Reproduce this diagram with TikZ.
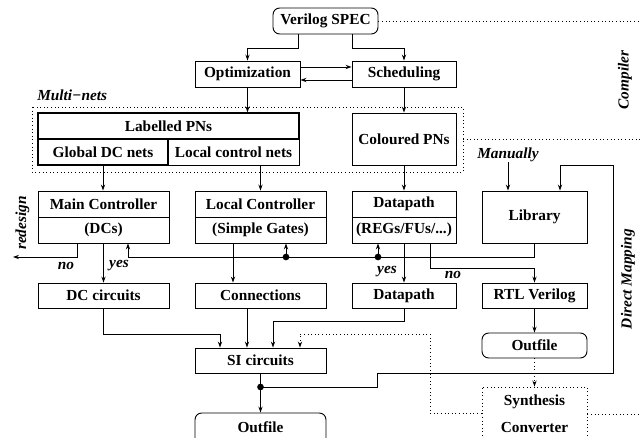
\documentclass[tikz,border=0pt]{standalone}
\usepackage{fontspec}
\setmainfont{Liberation Serif}
\usetikzlibrary{arrows.meta,calc}
\begin{document}
\begin{tikzpicture}[x=0.75pt,y=-0.75pt,
  every node/.style={font=\fontsize{11.5}{13}\selectfont\bfseries, inner sep=0pt},
  bx/.style n args={2}{draw, line width=0.7pt, minimum width=#1*0.75pt, minimum height=#2*0.75pt},
  rbx/.style n args={2}{bx={#1}{#2}, rounded corners=5pt},
  thickbx/.style n args={2}{bx={#1}{#2}, line width=1.1pt},
  dotbx/.style n args={2}{draw, dotted, line width=0.7pt, minimum width=#1*0.75pt, minimum height=#2*0.75pt},
  lbl/.style={font=\fontsize{11.5}{13}\selectfont\bfseries\itshape},
  arr/.style={-{Stealth[length=4.5pt,width=3.2pt]}, line width=0.65pt},
  ln/.style={line width=0.65pt},
  dline/.style={dotted, line width=0.7pt},
  dotarr/.style={dotted, line width=0.7pt, -{Stealth[length=4.5pt,width=3.2pt]}},
  jdot/.style={circle, fill, inner sep=0pt, minimum size=5pt}
]
\useasboundingbox (0,0) rectangle (640,438);
\clip (0,0) rectangle (640,438);

% boxes
\node[rbx={105}{26}] (spec) at (325.5,21) {Verilog SPEC};
\node[bx={105}{26}] (opt) at (247.5,74) {Optimization};
\node[bx={104}{26}] (sch) at (404,74) {Scheduling};

\node[thickbx={261}{26}] (lab) at (168.5,126) {Labelled PNs};
\node[thickbx={130}{26}] (gdc) at (103,152) {Global DC nets};
\node[bx={131}{26}] (lcn) at (233.5,152) {Local control nets};
\node[bx={104}{52}] (col) at (404,139) {Coloured PNs};

\node[bx={131}{26}] (mct) at (103.5,204) {Main Controller};
\node[bx={131}{26}] (mcb) at (103.5,230) {(DCs)};
\node[bx={131}{26}] (lct) at (260.5,204) {Local Controller};
\node[bx={131}{26}] (lcb) at (260.5,230) {(Simple Gates)};
\node[bx={104}{26}] (dpt) at (404,204) {Datapath};
\node[bx={104}{26}] (dpb) at (404,230) {(REGs/FUs/...)};
\node[bx={105}{52}] (lib) at (534.5,217) {Library};

\node[bx={131}{25}] (dcc) at (103.5,295.5) {DC circuits};
\node[bx={131}{25}] (conn) at (260.5,295.5) {Connections};
\node[bx={104}{25}] (dp2) at (404,295.5) {Datapath};
\node[bx={105}{25}] (rtl) at (534.5,295.5) {RTL Verilog};

\node[bx={131}{25}] (si) at (260.5,360.5) {SI circuits};
\node[rbx={105}{25}] (out2) at (534.5,345.5) {Outfile};
\node[rbx={131}{32}] (out1) at (260.5,429) {};
\node at (260.5,427) {Outfile};
\node[dotbx={105}{66}] (syn) at (534.5,420) {};
\node at (534.5,402) {Synthesis};
\node at (534.5,427) {Converter};

% labels
\node[lbl, anchor=west] (mn) at (37,95) {Multi−nets};
\node[lbl] (man) at (508,155) {Manually};
\node[lbl, rotate=90] (cmp) at (625,80) {Compiler};
\node[lbl, rotate=90] (dm) at (628,279) {Direct Mapping};
\node[lbl, rotate=90] (red) at (22.5,223) {redesign};
\node[lbl] (no1) at (66,266) {no};
\node[lbl] (yes1) at (119,266) {yes};
\node[lbl] (yes2) at (387,272) {yes};
\node[lbl] (no2) at (453,275) {no};

% dotted frames and separators
\coordinate (re) at (640,0);
\draw[dline] (32,107) rectangle (463,172);
\coordinate (mr) at (463,139);
\draw[dline] (spec.east) -- (spec.east -| re);
\draw[dline] (mr) -- (mr -| re);
\draw[dline] (syn.east |- 0,414) -- (640,414);

% connectors
\coordinate (k1) at (298,48);
\coordinate (k2) at (352,48);
\draw[arr] (spec.south -| k1) -- (k1) -| (opt.north);
\draw[arr] (spec.south -| k2) -- (k2) -| (sch.north);
\coordinate (k3) at (0,67);
\coordinate (k4) at (0,80);
\draw[arr] (opt.east |- k3) -- (sch.west |- k3);
\draw[arr] (sch.west |- k4) -- (opt.east |- k4);
\draw[arr] (opt.south) -- (opt.south |- lab.north);
\draw[arr] (sch.south) -- (col.north);

\draw[arr] (gdc.south) -- (gdc.south |- mct.north);
\draw[arr] (lcn.south -| lct.north) -- (lct.north);
\draw[arr] (col.south) -- (dpt.north);
\draw[arr] (man.south) -- (lib.north -| man.south);

% direct mapping feedback
\coordinate (d1) at (260.5,387);
\coordinate (f1) at (377,373);
\coordinate (f2) at (613,165);
\coordinate (f3) at (560,165);
\draw[arr] (d1) -| (f1) -| (f2) -| (lib.north -| f3);

% main controller outputs
\coordinate (g1) at (77,257);
\coordinate (g2) at (13,257);
\draw[arr] (mcb.south -| g1) -- (g1) -- (g2);
\draw[arr] (mcb.south) -- (dcc.north);

% library feedback
\coordinate (h1) at (128,257);
\coordinate (h2) at (286,257);
\coordinate (h3) at (378,257);
\draw[arr] (lib.south) |- (h1) -- (mcb.south -| h1);
\draw[arr] (h2) -- (lcb.south -| h2);
\draw[arr] (h3) -- (dpb.south -| h3);
\node[jdot] (j2) at (h2) {};
\node[jdot] (j3) at (h3) {};

% local controller / datapath outputs
\coordinate (k15) at (233,0);
\draw[arr] (lcb.south -| k15) -- (conn.north -| k15);
\draw[arr] (dpb.south) -- (dp2.north);
\coordinate (n1) at (430,268);
\draw[arr] (dpb.south -| n1) -- (n1) -| (rtl.north);

% into SI circuits
\coordinate (p1) at (220,334);
\coordinate (p2) at (247,0);
\coordinate (p3) at (273,321);
\draw[arr] (dcc.south) |- (p1) -- (si.north -| p1);
\draw[arr] (conn.south -| p2) -- (si.north -| p2);
\draw[arr] (dp2.south) |- (p3) -- (si.north -| p3);
\coordinate (q1) at (430,413);
\coordinate (q2) at (300,334);
\draw[dotarr] (syn.west |- q1) -- (q1) |- (q2) -- (si.north -| q2);

% outputs
\draw[arr] (si.south) -- (out1.north);
\node[jdot] (j1) at (d1) {};
\draw[arr] (rtl.south) -- (out2.north);
\draw[dotarr] (out2.south) -- (syn.north);
\end{tikzpicture}
\end{document}
